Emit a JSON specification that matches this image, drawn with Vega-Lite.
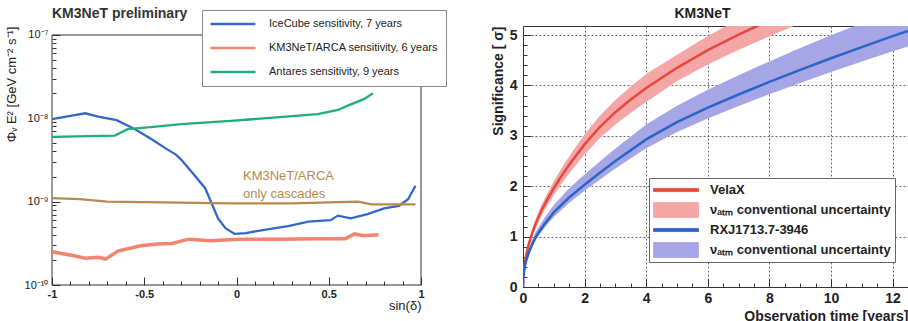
{
  "$schema": "https://vega.github.io/schema/vega-lite/v6.json",
  "padding": {"left": 5, "top": 6, "right": 0, "bottom": 0},
  "background": "white",
  "spacing": 43,
  "resolve": {"scale": {"color": "independent", "shape": "independent"}, "legend": {"color": "independent", "shape": "independent"}},
  "config": {
    "font": "Liberation Sans",
    "view": {"stroke": "#333", "strokeWidth": 1},
    "axis": {"domain": false, "grid": false, "tickColor": "#333", "labelColor": "#222", "titleColor": "#222", "labelOverlap": false, "tickCount": 100}
  },
  "datasets": {
    "left": [
      {"s": -1.0, "f": 9.8e-9, "k": "IceCube sensitivity, 7 years"},
      {"s": -0.9, "f": 1.07e-8, "k": "IceCube sensitivity, 7 years"},
      {"s": -0.82, "f": 1.15e-8, "k": "IceCube sensitivity, 7 years"},
      {"s": -0.75, "f": 1.05e-8, "k": "IceCube sensitivity, 7 years"},
      {"s": -0.7, "f": 1.0e-8, "k": "IceCube sensitivity, 7 years"},
      {"s": -0.65, "f": 9.5e-9, "k": "IceCube sensitivity, 7 years"},
      {"s": -0.55, "f": 7.4e-9, "k": "IceCube sensitivity, 7 years"},
      {"s": -0.46, "f": 5.6e-9, "k": "IceCube sensitivity, 7 years"},
      {"s": -0.38, "f": 4.3e-9, "k": "IceCube sensitivity, 7 years"},
      {"s": -0.33, "f": 3.7e-9, "k": "IceCube sensitivity, 7 years"},
      {"s": -0.3, "f": 3.2e-9, "k": "IceCube sensitivity, 7 years"},
      {"s": -0.23, "f": 2.1e-9, "k": "IceCube sensitivity, 7 years"},
      {"s": -0.17, "f": 1.45e-9, "k": "IceCube sensitivity, 7 years"},
      {"s": -0.14, "f": 1.02e-9, "k": "IceCube sensitivity, 7 years"},
      {"s": -0.1, "f": 6.3e-10, "k": "IceCube sensitivity, 7 years"},
      {"s": -0.06, "f": 4.8e-10, "k": "IceCube sensitivity, 7 years"},
      {"s": -0.01, "f": 4.1e-10, "k": "IceCube sensitivity, 7 years"},
      {"s": 0.05, "f": 4.2e-10, "k": "IceCube sensitivity, 7 years"},
      {"s": 0.15, "f": 4.6e-10, "k": "IceCube sensitivity, 7 years"},
      {"s": 0.28, "f": 5.1e-10, "k": "IceCube sensitivity, 7 years"},
      {"s": 0.39, "f": 5.75e-10, "k": "IceCube sensitivity, 7 years"},
      {"s": 0.51, "f": 6.0e-10, "k": "IceCube sensitivity, 7 years"},
      {"s": 0.55, "f": 6.8e-10, "k": "IceCube sensitivity, 7 years"},
      {"s": 0.62, "f": 6.3e-10, "k": "IceCube sensitivity, 7 years"},
      {"s": 0.71, "f": 7.1e-10, "k": "IceCube sensitivity, 7 years"},
      {"s": 0.8, "f": 8.3e-10, "k": "IceCube sensitivity, 7 years"},
      {"s": 0.88, "f": 8.9e-10, "k": "IceCube sensitivity, 7 years"},
      {"s": 0.93, "f": 1.07e-9, "k": "IceCube sensitivity, 7 years"},
      {"s": 0.97, "f": 1.55e-9, "k": "IceCube sensitivity, 7 years"},
      {"s": -1.0, "f": 2.5e-10, "k": "KM3NeT/ARCA sensitivity, 6 years"},
      {"s": -0.88, "f": 2.24e-10, "k": "KM3NeT/ARCA sensitivity, 6 years"},
      {"s": -0.82, "f": 2.1e-10, "k": "KM3NeT/ARCA sensitivity, 6 years"},
      {"s": -0.75, "f": 2.15e-10, "k": "KM3NeT/ARCA sensitivity, 6 years"},
      {"s": -0.71, "f": 2.05e-10, "k": "KM3NeT/ARCA sensitivity, 6 years"},
      {"s": -0.64, "f": 2.57e-10, "k": "KM3NeT/ARCA sensitivity, 6 years"},
      {"s": -0.52, "f": 2.95e-10, "k": "KM3NeT/ARCA sensitivity, 6 years"},
      {"s": -0.43, "f": 3.1e-10, "k": "KM3NeT/ARCA sensitivity, 6 years"},
      {"s": -0.35, "f": 3.15e-10, "k": "KM3NeT/ARCA sensitivity, 6 years"},
      {"s": -0.26, "f": 3.55e-10, "k": "KM3NeT/ARCA sensitivity, 6 years"},
      {"s": -0.14, "f": 3.4e-10, "k": "KM3NeT/ARCA sensitivity, 6 years"},
      {"s": 0.01, "f": 3.55e-10, "k": "KM3NeT/ARCA sensitivity, 6 years"},
      {"s": 0.24, "f": 3.55e-10, "k": "KM3NeT/ARCA sensitivity, 6 years"},
      {"s": 0.42, "f": 3.6e-10, "k": "KM3NeT/ARCA sensitivity, 6 years"},
      {"s": 0.59, "f": 3.6e-10, "k": "KM3NeT/ARCA sensitivity, 6 years"},
      {"s": 0.64, "f": 4.1e-10, "k": "KM3NeT/ARCA sensitivity, 6 years"},
      {"s": 0.69, "f": 3.9e-10, "k": "KM3NeT/ARCA sensitivity, 6 years"},
      {"s": 0.77, "f": 4.0e-10, "k": "KM3NeT/ARCA sensitivity, 6 years"},
      {"s": -1.0, "f": 6.0e-9, "k": "Antares sensitivity, 9 years"},
      {"s": -0.66, "f": 6.2e-9, "k": "Antares sensitivity, 9 years"},
      {"s": -0.59, "f": 7.4e-9, "k": "Antares sensitivity, 9 years"},
      {"s": -0.45, "f": 7.9e-9, "k": "Antares sensitivity, 9 years"},
      {"s": -0.3, "f": 8.5e-9, "k": "Antares sensitivity, 9 years"},
      {"s": -0.03, "f": 9.3e-9, "k": "Antares sensitivity, 9 years"},
      {"s": 0.2, "f": 1.02e-8, "k": "Antares sensitivity, 9 years"},
      {"s": 0.44, "f": 1.12e-8, "k": "Antares sensitivity, 9 years"},
      {"s": 0.55, "f": 1.26e-8, "k": "Antares sensitivity, 9 years"},
      {"s": 0.6, "f": 1.41e-8, "k": "Antares sensitivity, 9 years"},
      {"s": 0.69, "f": 1.7e-8, "k": "Antares sensitivity, 9 years"},
      {"s": 0.74, "f": 2.0e-8, "k": "Antares sensitivity, 9 years"},
      {"s": -1.0, "f": 1.1e-9, "k": "KM3NeT/ARCA only cascades"},
      {"s": -0.85, "f": 1.07e-9, "k": "KM3NeT/ARCA only cascades"},
      {"s": -0.7, "f": 1.0e-9, "k": "KM3NeT/ARCA only cascades"},
      {"s": -0.4, "f": 9.8e-10, "k": "KM3NeT/ARCA only cascades"},
      {"s": -0.03, "f": 9.55e-10, "k": "KM3NeT/ARCA only cascades"},
      {"s": 0.3, "f": 9.55e-10, "k": "KM3NeT/ARCA only cascades"},
      {"s": 0.66, "f": 1.0e-9, "k": "KM3NeT/ARCA only cascades"},
      {"s": 0.73, "f": 9.3e-10, "k": "KM3NeT/ARCA only cascades"},
      {"s": 0.97, "f": 9.3e-10, "k": "KM3NeT/ARCA only cascades"}
    ],
    "leftText": [
      {"s": 0.035, "f": 2.04e-9, "label": "KM3NeT/ARCA"},
      {"s": 0.035, "f": 1.23e-9, "label": "only cascades"}
    ],
    "leftFrame": [
      {"x": -1, "x2": 1, "y": 1e-7, "y2": 1e-7},
      {"x": -1, "x2": 1, "y": 1e-10, "y2": 1e-10},
      {"x": -1, "x2": -1, "y": 1e-10, "y2": 1e-7},
      {"x": 1, "x2": 1, "y": 1e-10, "y2": 1e-7}
    ],
    "right": [
      {"t": 0, "c": 0, "lo": 0, "hi": 0, "k": "VelaX", "b": "VelaX band"},
      {"t": 0.01, "c": 0.2, "lo": 0.186, "hi": 0.214, "k": "VelaX", "b": "VelaX band"},
      {"t": 0.03, "c": 0.34, "lo": 0.316, "hi": 0.364, "k": "VelaX", "b": "VelaX band"},
      {"t": 0.06, "c": 0.48, "lo": 0.446, "hi": 0.514, "k": "VelaX", "b": "VelaX band"},
      {"t": 0.1, "c": 0.62, "lo": 0.577, "hi": 0.663, "k": "VelaX", "b": "VelaX band"},
      {"t": 0.18, "c": 0.83, "lo": 0.772, "hi": 0.888, "k": "VelaX", "b": "VelaX band"},
      {"t": 0.26, "c": 1.0, "lo": 0.93, "hi": 1.07, "k": "VelaX", "b": "VelaX band"},
      {"t": 0.4, "c": 1.24, "lo": 1.153, "hi": 1.327, "k": "VelaX", "b": "VelaX band"},
      {"t": 0.6, "c": 1.52, "lo": 1.414, "hi": 1.626, "k": "VelaX", "b": "VelaX band"},
      {"t": 0.8, "c": 1.75, "lo": 1.628, "hi": 1.873, "k": "VelaX", "b": "VelaX band"},
      {"t": 1.04, "c": 2.0, "lo": 1.86, "hi": 2.14, "k": "VelaX", "b": "VelaX band"},
      {"t": 1.3, "c": 2.25, "lo": 2.093, "hi": 2.408, "k": "VelaX", "b": "VelaX band"},
      {"t": 1.6, "c": 2.51, "lo": 2.334, "hi": 2.686, "k": "VelaX", "b": "VelaX band"},
      {"t": 2.0, "c": 2.83, "lo": 2.632, "hi": 3.028, "k": "VelaX", "b": "VelaX band"},
      {"t": 2.5, "c": 3.18, "lo": 2.957, "hi": 3.403, "k": "VelaX", "b": "VelaX band"},
      {"t": 3.0, "c": 3.47, "lo": 3.227, "hi": 3.713, "k": "VelaX", "b": "VelaX band"},
      {"t": 3.5, "c": 3.72, "lo": 3.46, "hi": 3.98, "k": "VelaX", "b": "VelaX band"},
      {"t": 4.0, "c": 3.95, "lo": 3.674, "hi": 4.227, "k": "VelaX", "b": "VelaX band"},
      {"t": 5.0, "c": 4.35, "lo": 4.089, "hi": 4.611, "k": "VelaX", "b": "VelaX band"},
      {"t": 6.0, "c": 4.7, "lo": 4.418, "hi": 4.982, "k": "VelaX", "b": "VelaX band"},
      {"t": 7.0, "c": 5.01, "lo": 4.709, "hi": 5.311, "k": "VelaX", "b": "VelaX band"},
      {"t": 7.6, "c": 5.18, "lo": 4.869, "hi": 5.491, "k": "VelaX", "b": "VelaX band"},
      {"t": 8.2, "c": 5.35, "lo": 5.029, "hi": 5.671, "k": "VelaX", "b": "VelaX band"},
      {"t": 8.8, "c": 5.51, "lo": 5.179, "hi": 5.841, "k": "VelaX", "b": "VelaX band"},
      {"t": 0, "c": 0, "lo": 0, "hi": 0, "k": "RXJ1713.7-3946", "b": "RXJ band"},
      {"t": 0.01, "c": 0.18, "lo": 0.169, "hi": 0.198, "k": "RXJ1713.7-3946", "b": "RXJ band"},
      {"t": 0.03, "c": 0.3, "lo": 0.282, "hi": 0.33, "k": "RXJ1713.7-3946", "b": "RXJ band"},
      {"t": 0.06, "c": 0.41, "lo": 0.385, "hi": 0.451, "k": "RXJ1713.7-3946", "b": "RXJ band"},
      {"t": 0.1, "c": 0.52, "lo": 0.489, "hi": 0.572, "k": "RXJ1713.7-3946", "b": "RXJ band"},
      {"t": 0.2, "c": 0.7, "lo": 0.658, "hi": 0.77, "k": "RXJ1713.7-3946", "b": "RXJ band"},
      {"t": 0.3, "c": 0.85, "lo": 0.799, "hi": 0.935, "k": "RXJ1713.7-3946", "b": "RXJ band"},
      {"t": 0.42, "c": 1.0, "lo": 0.94, "hi": 1.1, "k": "RXJ1713.7-3946", "b": "RXJ band"},
      {"t": 0.7, "c": 1.25, "lo": 1.175, "hi": 1.375, "k": "RXJ1713.7-3946", "b": "RXJ band"},
      {"t": 1.0, "c": 1.48, "lo": 1.391, "hi": 1.628, "k": "RXJ1713.7-3946", "b": "RXJ band"},
      {"t": 1.5, "c": 1.78, "lo": 1.673, "hi": 1.958, "k": "RXJ1713.7-3946", "b": "RXJ band"},
      {"t": 2.0, "c": 2.03, "lo": 1.908, "hi": 2.233, "k": "RXJ1713.7-3946", "b": "RXJ band"},
      {"t": 2.5, "c": 2.27, "lo": 2.134, "hi": 2.497, "k": "RXJ1713.7-3946", "b": "RXJ band"},
      {"t": 3.0, "c": 2.5, "lo": 2.35, "hi": 2.75, "k": "RXJ1713.7-3946", "b": "RXJ band"},
      {"t": 4.0, "c": 2.93, "lo": 2.754, "hi": 3.223, "k": "RXJ1713.7-3946", "b": "RXJ band"},
      {"t": 5.0, "c": 3.27, "lo": 3.074, "hi": 3.597, "k": "RXJ1713.7-3946", "b": "RXJ band"},
      {"t": 6.0, "c": 3.56, "lo": 3.346, "hi": 3.916, "k": "RXJ1713.7-3946", "b": "RXJ band"},
      {"t": 7.0, "c": 3.82, "lo": 3.591, "hi": 4.202, "k": "RXJ1713.7-3946", "b": "RXJ band"},
      {"t": 8.0, "c": 4.07, "lo": 3.826, "hi": 4.477, "k": "RXJ1713.7-3946", "b": "RXJ band"},
      {"t": 9.0, "c": 4.31, "lo": 4.051, "hi": 4.741, "k": "RXJ1713.7-3946", "b": "RXJ band"},
      {"t": 10.0, "c": 4.54, "lo": 4.268, "hi": 4.994, "k": "RXJ1713.7-3946", "b": "RXJ band"},
      {"t": 11.0, "c": 4.76, "lo": 4.474, "hi": 5.236, "k": "RXJ1713.7-3946", "b": "RXJ band"},
      {"t": 12.0, "c": 4.98, "lo": 4.681, "hi": 5.478, "k": "RXJ1713.7-3946", "b": "RXJ band"},
      {"t": 12.5, "c": 5.08, "lo": 4.775, "hi": 5.588, "k": "RXJ1713.7-3946", "b": "RXJ band"}
    ]
  },
  "hconcat": [
    {
      "width": 369,
      "height": 259,
      "view": {"stroke": null},
      "title": {"text": "KM3NeT preliminary", "anchor": "start", "frame": "group", "fontSize": 14, "fontWeight": "bold", "offset": -11, "color": "#333"},
      "layer": [
        {
          "data": {"name": "leftFrame"},
          "mark": {"type": "rule", "color": "#333", "strokeWidth": 1},
          "encoding": {
            "x": {"field": "x", "type": "quantitative"},
            "x2": {"field": "x2"},
            "y": {"field": "y", "type": "quantitative"},
            "y2": {"field": "y2"}
          }
        },
        {
          "data": {"name": "left"},
          "transform": [{"filter": "datum.k != 'KM3NeT/ARCA sensitivity, 6 years'"}],
          "mark": {"type": "line", "strokeWidth": 2.3},
          "encoding": {
            "x": {
              "field": "s", "type": "quantitative",
              "scale": {"domain": [-1, 1], "nice": false, "zero": false},
              "axis": {
                "values": [-1, -0.9, -0.8, -0.7, -0.6, -0.5, -0.4, -0.3, -0.2, -0.1, 0, 0.1, 0.2, 0.3, 0.4, 0.5, 0.6, 0.7, 0.8, 0.9, 1],
                "tickCount": 100,
                "labelExpr": "abs(datum.value*2-round(datum.value*2))<0.001 ? (datum.value + '') : ''",
                "tickSize": {"condition": {"test": "abs(datum.value*2-round(datum.value*2))<0.001", "value": -8}, "value": -4},
                "labelOverlap": false,
                "labelPadding": 11, "labelFontSize": 11, "labelFontWeight": "bold", "labelFlush": false,
                "title": "sin(δ)", "titleAnchor": "end", "titleFontSize": 13, "titleFontWeight": "normal", "titlePadding": -4
              }
            },
            "y": {
              "field": "f", "type": "quantitative",
              "scale": {"type": "log", "domain": [1e-10, 1.282e-7], "nice": false},
              "axis": {
                "values": [1e-10, 2e-10, 3e-10, 4e-10, 5e-10, 6e-10, 7e-10, 8e-10, 9e-10, 1e-9, 2e-9, 3e-9, 4e-9, 5e-9, 6e-9, 7e-9, 8e-9, 9e-9, 1e-8, 2e-8, 3e-8, 4e-8, 5e-8, 6e-8, 7e-8, 8e-8, 9e-8, 1e-7],
                "tickCount": 100,
                "labelExpr": "datum.value==1e-7 ? '10⁻⁷' : datum.value==1e-8 ? '10⁻⁸' : datum.value==1e-9 ? '10⁻⁹' : datum.value==1e-10 ? '10⁻¹⁰' : ''",
                "tickSize": {"condition": {"test": "datum.value==1e-7 || datum.value==1e-8 || datum.value==1e-9 || datum.value==1e-10", "value": -8}, "value": -4},
                "labelOverlap": false,
                "labelPadding": 12, "labelFontSize": 11, "labelFlush": false,
                "title": "Φᵥ E² [GeV cm⁻² s⁻¹]", "titleAnchor": "end", "titleFontSize": 13, "titleFontWeight": "normal", "titlePadding": 6
              }
            },
            "color": {
              "field": "k", "type": "nominal",
              "scale": {
                "domain": ["IceCube sensitivity, 7 years", "KM3NeT/ARCA sensitivity, 6 years", "Antares sensitivity, 9 years", "KM3NeT/ARCA only cascades"],
                "range": ["#3467cc", "#f4836f", "#21ad76", "#b68a4e"]
              },
              "legend": {
                "orient": "none", "legendX": 150, "legendY": -16, "title": null,
                "values": ["IceCube sensitivity, 7 years", "KM3NeT/ARCA sensitivity, 6 years", "Antares sensitivity, 9 years"],
                "symbolType": "stroke", "symbolSize": 2025, "symbolStrokeWidth": 2.5, "clipHeight": 14,
                "labelFontSize": 11, "labelFontWeight": "normal", "labelOffset": 12, "labelLimit": 300, "rowPadding": 10, "padding": 7,
                "fillColor": "white", "strokeColor": "#888", "labelColor": "#222"
              }
            }
          }
        },
        {
          "data": {"name": "left"},
          "transform": [{"filter": "datum.k == 'KM3NeT/ARCA sensitivity, 6 years'"}],
          "mark": {"type": "line", "strokeWidth": 3.5},
          "encoding": {
            "x": {"field": "s", "type": "quantitative"},
            "y": {"field": "f", "type": "quantitative"},
            "color": {"field": "k", "type": "nominal"}
          }
        },
        {
          "data": {"name": "leftText"},
          "mark": {"type": "text", "align": "left", "baseline": "middle", "fontSize": 13, "color": "#b58a4f"},
          "encoding": {
            "x": {"field": "s", "type": "quantitative"},
            "y": {"field": "f", "type": "quantitative"},
            "text": {"field": "label"}
          }
        }
      ]
    },
    {
      "width": 385,
      "height": 261,
      "title": {"text": "KM3NeT", "anchor": "middle", "frame": "group", "fontSize": 14, "fontWeight": "bold", "offset": 5, "dx": -13, "color": "#222"},
      "layer": [
        {
          "data": {"name": "right"},
          "mark": {"type": "area", "opacity": 1, "clip": true},
          "encoding": {
            "x": {
              "field": "t", "type": "quantitative",
              "scale": {"domain": [0, 12.5], "nice": false},
              "axis": {
                "values": [0, 0.5, 1, 1.5, 2, 2.5, 3, 3.5, 4, 4.5, 5, 5.5, 6, 6.5, 7, 7.5, 8, 8.5, 9, 9.5, 10, 10.5, 11, 11.5, 12, 12.5],
                "tickCount": 100,
                "labelExpr": "datum.value % 2 == 0 ? datum.value + '' : ''",
                "tickSize": {"condition": {"test": "datum.value % 2 == 0", "value": -8}, "value": -4},
                "grid": true, "gridDash": [2, 2], "gridColor": "#666",
                "gridOpacity": {"condition": {"test": "datum.value % 2 == 0 && datum.value > 0", "value": 1}, "value": 0},
                "labelOverlap": false,
                "labelPadding": 12, "labelFontSize": 14, "labelFontWeight": "bold", "labelFlush": false,
                "title": "Observation time [years]", "titleAnchor": "end", "titleFontSize": 14, "titleFontWeight": "bold", "titlePadding": 0
              }
            },
            "y": {
              "field": "lo", "type": "quantitative",
              "scale": {"domain": [0, 5.18], "nice": false},
              "axis": {
                "values": [0, 0.2, 0.4, 0.6, 0.8, 1, 1.2, 1.4, 1.6, 1.8, 2, 2.2, 2.4, 2.6, 2.8, 3, 3.2, 3.4, 3.6, 3.8, 4, 4.2, 4.4, 4.6, 4.8, 5],
                "tickCount": 100,
                "labelExpr": "abs(datum.value-round(datum.value))<0.001 ? datum.value + '' : ''",
                "tickSize": {"condition": {"test": "abs(datum.value-round(datum.value))<0.001", "value": -8}, "value": -4},
                "grid": true, "gridDash": [2, 2], "gridColor": "#666",
                "gridOpacity": {"condition": {"test": "abs(datum.value-round(datum.value))<0.001 && datum.value > 0", "value": 1}, "value": 0},
                "labelOverlap": false,
                "labelPadding": 14, "labelFontSize": 14, "labelFontWeight": "bold", "labelFlush": false,
                "title": "Significance [ σ]", "titleAnchor": "end", "titleFontSize": 14, "titleFontWeight": "bold", "titlePadding": 4
              }
            },
            "y2": {"field": "hi"},
            "color": {
              "field": "b", "type": "nominal",
              "scale": {
                "domain": ["VelaX", "VelaX band", "RXJ1713.7-3946", "RXJ band"],
                "range": ["#e8473c", "#f5a6a6", "#2b63c6", "#a6a6e6"]
              },
              "legend": {
                "orient": "none", "legendX": 126, "legendY": 152, "title": null,
                "symbolSize": 2025, "symbolOpacity": 1, "symbolStrokeColor": "#888", "symbolStrokeWidth": 0.8, "clipHeight": 16,
                "labelFontSize": 13, "labelFontWeight": "bold", "labelOffset": 11, "labelLimit": 300,
                "rowPadding": 4, "padding": 4, "fillColor": "white", "strokeColor": "#666", "labelColor": "#222",
                "labelExpr": "indexof(datum.label, 'band') >= 0 ? 'νₐₜₘ conventional uncertainty' : datum.label"
              }
            }
          }
        },
        {
          "data": {"name": "right"},
          "mark": {"type": "line", "strokeWidth": 2.5, "clip": true},
          "encoding": {
            "x": {"field": "t", "type": "quantitative"},
            "y": {"field": "c", "type": "quantitative"},
            "color": {"field": "k", "type": "nominal", "legend": null}
          }
        },
        {
          "data": {"name": "right"},
          "mark": {"type": "point", "filled": true, "opacity": 0, "size": 1, "clip": true},
          "encoding": {
            "x": {"field": "t", "type": "quantitative"},
            "y": {"field": "lo", "type": "quantitative"},
            "color": {"field": "b", "type": "nominal"},
            "shape": {
              "field": "b", "type": "nominal",
              "scale": {
                "domain": ["VelaX", "VelaX band", "RXJ1713.7-3946", "RXJ band"],
                "range": ["M-1,-0.07L1,-0.07L1,0.07L-1,0.07Z", "M-1,-0.333L1,-0.333L1,0.333L-1,0.333Z", "M-1,-0.07L1,-0.07L1,0.07L-1,0.07Z", "M-1,-0.333L1,-0.333L1,0.333L-1,0.333Z"]
              },
              "legend": {
                "orient": "none", "legendX": 126, "legendY": 152, "title": null,
                "symbolSize": 2025, "symbolOpacity": 1, "symbolStrokeColor": "#888", "symbolStrokeWidth": 0.8, "clipHeight": 16,
                "labelFontSize": 13, "labelFontWeight": "bold", "labelOffset": 11, "labelLimit": 300,
                "rowPadding": 4, "padding": 4, "fillColor": "white", "strokeColor": "#666", "labelColor": "#222",
                "labelExpr": "indexof(datum.label, 'band') >= 0 ? 'νₐₜₘ conventional uncertainty' : datum.label"
              }
            }
          }
        }
      ]
    }
  ]
}
